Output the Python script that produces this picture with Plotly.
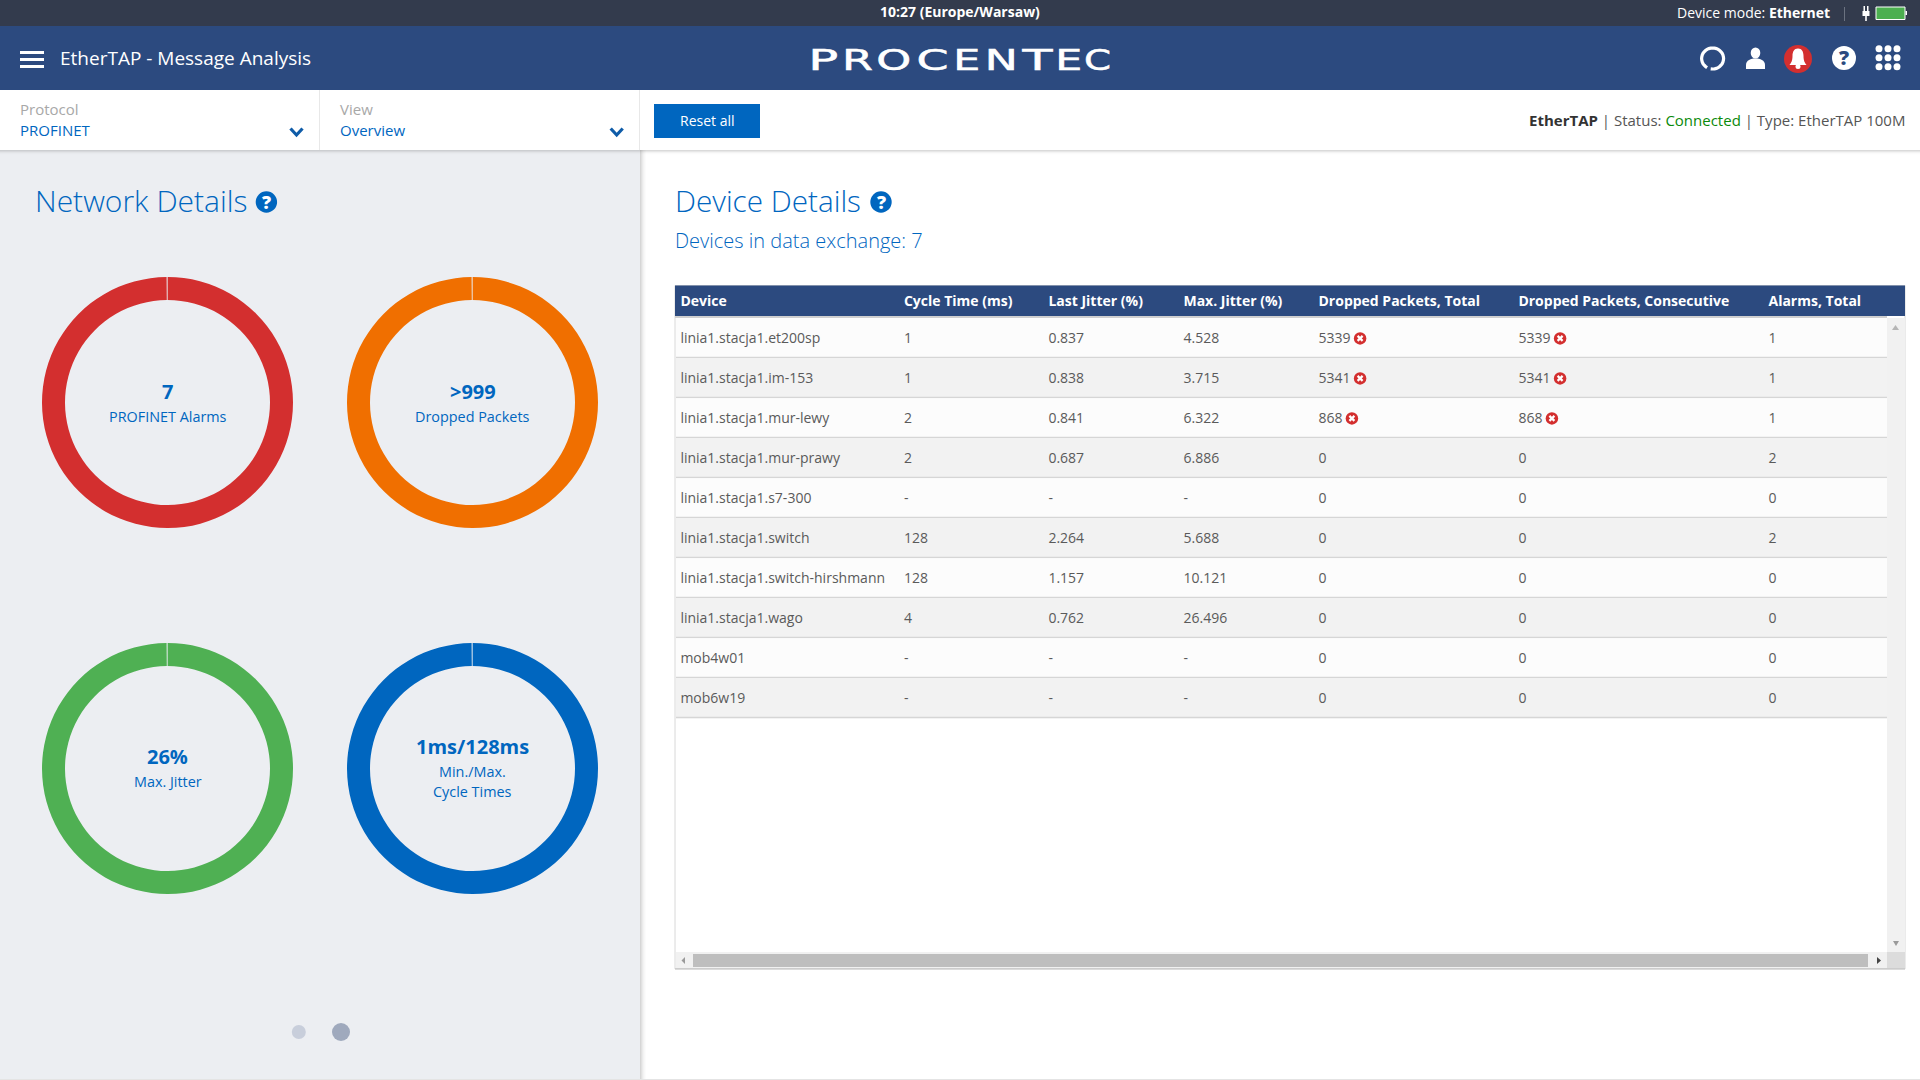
import json
import math
import plotly.graph_objects as go

# ---------- data ----------
devices = ["linia1.stacja1.et200sp", "linia1.stacja1.im-153", "linia1.stacja1.mur-lewy",
           "linia1.stacja1.mur-prawy", "linia1.stacja1.s7-300", "linia1.stacja1.switch",
           "linia1.stacja1.switch-hirshmann", "linia1.stacja1.wago", "mob4w01", "mob6w19"]
cycle_time = ["1", "1", "2", "2", "-", "128", "128", "4", "-", "-"]
last_jitter = ["0.837", "0.838", "0.841", "0.687", "-", "2.264", "1.157", "0.762", "-", "-"]
max_jitter = ["4.528", "3.715", "6.322", "6.886", "-", "5.688", "10.121", "26.496", "-", "-"]
dropped_total = ["5339", "5341", "868", "0", "0", "0", "0", "0", "0", "0"]
dropped_consecutive = ["5339", "5341", "868", "0", "0", "0", "0", "0", "0", "0"]
alarms_total = ["1", "1", "1", "2", "0", "2", "0", "0", "0", "0"]
table_headers = ["Device", "Cycle Time (ms)", "Last Jitter (%)", "Max. Jitter (%)",
                 "Dropped Packets, Total", "Dropped Packets, Consecutive", "Alarms, Total"]

donut_values = ["7", ">999", "26%", "1ms/128ms"]
donut_labels = [["PROFINET Alarms"], ["Dropped Packets"], ["Max. Jitter"], ["Min./Max.", "Cycle Times"]]
ring_slices = [100, 0.1]
logo_text = "PROCENTEC"

# ---------- style ----------
FONT = "Open Sans"
BLUE = "#0066BF"
NAVY = "#2C4A7F"
DARK = "#333B4D"
PANEL = "#ECEEF2"
TEXT = "#5A5A5A"
RED = "#D32F2F"
donut_colors = ["#D32F2F", "#F06F00", "#4FB053", "#0066BF"]
donut_centers = [(167.5, 402.5), (472.5, 402.5), (167.5, 768.5), (472.5, 768.5)]
R = 125.5
col_text_x = [680.4, 904, 1048.6, 1183.7, 1318.8, 1518.8, 1769]
logo_x = [823.7, 857.8, 894.2, 932, 966.7, 1001.7, 1036.7, 1068.3, 1097.8]
logo_w = [30, 31, 35, 32, 27, 33, 30, 27, 27]
TABLE_PAD = 8
TABLE_TOP = 285.5
ROW_H = 40
W, H = 1920, 1080

shapes, annos = [], []


def rect(x0, y0, x1, y1, color, layer="below", line=None, lw=1):
    shapes.append(dict(type="rect", xref="x", yref="y", x0=x0, y0=y0, x1=x1, y1=y1,
                       fillcolor=color, layer=layer,
                       line=dict(color=line, width=lw) if line else dict(width=0)))


def circle(cx, cy, r, color, layer="above", line=None, lw=1, ry=None):
    ry = ry or r
    shapes.append(dict(type="circle", xref="x", yref="y", x0=cx - r, y0=cy - ry, x1=cx + r, y1=cy + ry,
                       fillcolor=color, layer=layer,
                       line=dict(color=line, width=lw) if line else dict(width=0)))


def path(d, fill=None, line=None, lw=0, layer="above"):
    shapes.append(dict(type="path", xref="x", yref="y", path=d, layer=layer,
                       fillcolor=fill if fill else "rgba(0,0,0,0)",
                       line=dict(color=line, width=lw) if line else dict(width=0)))


def txt(x, y, s, size, color, anchor="left", weight=400, family=FONT):
    dx = {"left": -2.5, "right": 1.5, "center": 0}[anchor]
    font = dict(family=family, size=size, color=color, weight=weight)
    annos.append(dict(xref="x", yref="y", x=x + dx, y=y - 0.8, text=s, showarrow=False, xanchor=anchor,
                      yanchor="middle", align=anchor, font=font))


def help_icon(cx, cy, r, bg, fg, size):
    circle(cx, cy, r, bg)
    txt(cx, cy + 0.3, "?", size, fg, "center", 800)


def chevron(cx, cy):
    path(f"M {cx-6} {cy-3.5} L {cx} {cy+3} L {cx+6} {cy-3.5}", line="#0F5CA8", lw=3.2)


def tri(points, color):
    path("M " + " L ".join(f"{x} {y}" for x, y in points) + " Z", fill=color)


# ---------- app chrome ----------
rect(0, 150, 640, 1079, PANEL)
for i, (a) in enumerate([0.30, 0.22, 0.15, 0.09, 0.05, 0.02]):
    rect(640 + i, 150, 641 + i, 1079, f"rgba(120,120,120,{a})")
    rect(0, 150 + i * 0.7, W, 150.7 + i * 0.7, f"rgba(120,120,120,{a})")
rect(0, 1079, W, 1080, "#E4E4E4")
rect(0, 0, W, 26, DARK)
rect(0, 26, W, 90, NAVY)
rect(319, 90, 320, 150, "#E8E8E8")
rect(639, 90, 640, 150, "#E8E8E8")
rect(654, 104, 760, 138, BLUE)

for y in (51, 58, 65):
    rect(20, y, 44, y + 3, "#FFFFFF")

txt(60.5, 58.5, "EtherTAP - Message Analysis", 19, "#FFFFFF")
txt(960, 12.5, "10:27 (Europe/Warsaw)", 14, "#FFFFFF", "center", 700)
txt(1830, 13, "Device mode: <b>Ethernet</b>", 14, "#FFFFFF", "right")
rect(1844, 7, 1845, 21, "#6B7280")

# logo: one real-text letter each; each is stretched to its width once the page is drawn
logo_index = []
for ch, x in zip(logo_text, logo_x):
    logo_index.append(len(annos))
    txt(x, 60.5, ch, 27.5, "#FFFFFF", "center", 400, "DejaVu Sans")

# plug + battery
rect(1862.5, 11, 1869.5, 16, "#FFFFFF")
rect(1863.5, 6, 1865, 11, "#FFFFFF")
rect(1867, 6, 1868.5, 11, "#FFFFFF")
rect(1865.2, 16, 1866.8, 21, "#FFFFFF")
rect(1876, 7, 1905, 19.5, "#4CAF50", layer="above", line="#FFFFFF", lw=1)
rect(1905.5, 11, 1907, 15, "#FFFFFF")

# refresh
arc = [(1712.6 + 11 * math.cos(math.radians(a)), 58.5 + 10.5 * math.sin(math.radians(a)))
       for a in range(120, 120 + 350, 10)]
path("M " + " L ".join(f"{x:.1f} {y:.1f}" for x, y in arc), line="#FFFFFF", lw=3.2)
# user
circle(1755.5, 53, 4.8, "#FFFFFF", ry=5.5)
path("M 1746 69 L 1746 65 C 1746 60 1751 58.5 1755.5 58.5 C 1760 58.5 1765 60 1765 65 L 1765 69 Z", fill="#FFFFFF")
# bell
circle(1798, 59, 14, RED)
path("M 1798 48.5 C 1794 48.5 1792.5 52 1792.5 56 C 1792.5 61 1791 63 1789.5 65 L 1806.5 65 "
     "C 1805 63 1803.5 61 1803.5 56 C 1803.5 52 1802 48.5 1798 48.5 Z", fill="#FFFFFF")
circle(1798, 66.5, 2.5, "#FFFFFF")
# help
help_icon(1844, 58, 12, "#FFFFFF", NAVY, 20)

# filter bar
txt(20, 109.5, "Protocol", 15, "#A8A8A8")
txt(20, 131, "PROFINET", 15, BLUE)
chevron(296.5, 132)
txt(340, 109.5, "View", 15, "#A8A8A8")
txt(340, 131, "Overview", 15, BLUE)
chevron(616.7, 132)
txt(707, 121, "Reset all", 14, "#FFFFFF", "center")
txt(1905, 120.5, '<b style="color:#333">EtherTAP</b> | Status: <span style="color:#0A8A0A">Connected</span>'
    ' | Type: EtherTAP 100M', 15, "#555555", "right")

# headings
txt(35, 201, "Network Details", 30, BLUE, weight=300)
help_icon(266.4, 202, 10.7, BLUE, "#FFFFFF", 18)
txt(675.2, 201, "Device Details", 29.7, BLUE, weight=300)
help_icon(881, 202, 10.7, BLUE, "#FFFFFF", 18)
txt(675.5, 241, "Devices in data exchange: 7", 20, BLUE, weight=300)

# pagination
circle(298.8, 1032, 7, "#C8CEDB")
circle(341, 1032, 9, "#9FA9BD")

# ---------- table frame ----------
n_rows = len(devices)
rows_top = 318.2
rect(675, TABLE_TOP, 1905, 969, "#FFFFFF", line="#D8D8D8", lw=1)
rect(675, TABLE_TOP, 1905, 316, NAVY)
rect(675, 316, 1887, 318, "#CFCFCF")
for i in range(n_rows):
    y0 = rows_top + i * ROW_H
    rect(676, y0, 1887, y0 + ROW_H, "#FCFCFC" if i % 2 == 0 else "#F2F2F2")
    rect(676, y0 + ROW_H - 1.5, 1887, y0 + ROW_H, "#D6D6D6")
rect(1887, 318, 1905, 952, "#F1F1F1")
rect(676, 952, 1887, 968, "#F1F1F1")
rect(1887, 952, 1905, 968, "#DCDCDC")
rect(693, 954, 1868, 967, "#BEBEBE")
rect(675, 968, 1905, 969.5, "#CCCCCC")
tri([(1892, 330), (1899, 330), (1895.5, 325)], "#B5B5B5")
tri([(1893, 941), (1899, 941), (1896, 946)], "#9A9A9A")
tri([(685, 957), (685, 964), (681.5, 960.5)], "#9A9A9A")
tri([(1877, 957), (1877, 964), (1881, 960.5)], "#444444")

# ---------- figure ----------
fig = go.Figure()

# status icons beside dropped-packet counts
ix, iy = [], []
for col, values in ((4, dropped_total), (5, dropped_consecutive)):
    for i, v in enumerate(values):
        if int(v) > 0:
            ix.append(col_text_x[col] + 8.5 + 8.2 * len(v))
            iy.append(rows_top + (i + 0.5) * ROW_H + 0.2)
fig.add_trace(go.Scatter(x=ix, y=iy, mode="markers", hoverinfo="skip", showlegend=False,
                         marker=dict(symbol="circle", size=12.5, color=RED, line=dict(width=0))))
fig.add_trace(go.Scatter(x=ix, y=iy, mode="markers", hoverinfo="skip", showlegend=False,
                         marker=dict(symbol="x-thin", size=5, line=dict(width=2.2, color="#FFFFFF"))))

# donuts
for (cx, cy), color in zip(donut_centers, donut_colors):
    fig.add_trace(go.Pie(values=ring_slices, hole=102.5 / R, sort=False, direction="clockwise",
                         rotation=0, textinfo="none", hoverinfo="skip", showlegend=False,
                         marker=dict(colors=[color, "rgba(236,238,242,0.6)"], line=dict(width=0)),
                         domain=dict(x=[(cx - R) / W, (cx + R) / W],
                                     y=[1 - (cy + R) / H, 1 - (cy - R) / H])))
for n, ((cx, cy), v, labels) in enumerate(zip(donut_centers, donut_values, donut_labels)):
    off = 0 if len(labels) == 1 else -10
    row_off = -0.4 if n < 2 else -1.4
    txt(cx, cy - 9.5 + off + row_off, v, 20, BLUE, "center", 700)
    for j, lab in enumerate(labels):
        txt(cx, cy + 15 + off + row_off + j * 20, lab, 14.4, BLUE, "center")

# table
lefts = [x - TABLE_PAD for x in col_text_x] + [1905 + TABLE_PAD]
widths = [lefts[i + 1] - lefts[i] for i in range(7)]
T_TOP = 282.5
T_HEAD = 41.8
fig.add_trace(go.Table(
    domain=dict(x=[lefts[0] / W, lefts[-1] / W],
                y=[1 - (T_TOP + T_HEAD + n_rows * ROW_H + 6) / H, 1 - T_TOP / H]),
    columnwidth=widths,
    header=dict(values=[f"<b>{h}</b>" for h in table_headers], height=T_HEAD, align="left",
                fill=dict(color="rgba(0,0,0,0)"), line=dict(width=0),
                font=dict(family=FONT, size=14, color="#FFFFFF")),
    cells=dict(values=[devices, cycle_time, last_jitter, max_jitter, dropped_total,
                       dropped_consecutive, alarms_total],
               height=ROW_H, align="left", fill=dict(color="rgba(0,0,0,0)"), line=dict(width=0),
               font=dict(family=FONT, size=14, color=TEXT))))

fig.update_layout(
    width=W, height=H, margin=dict(l=0, r=0, t=0, b=0, pad=0), paper_bgcolor="#FFFFFF",
    plot_bgcolor="rgba(0,0,0,0)", showlegend=False, shapes=shapes, annotations=annos,
    xaxis=dict(range=[0, W], visible=False, fixedrange=True, domain=[0, 1]),
    yaxis=dict(range=[H, 0], visible=False, fixedrange=True, domain=[0, 1]),
)

# grid launcher dots
gx = [1879, 1888, 1897] * 3
gy = [48.7] * 3 + [57.7] * 3 + [66.7] * 3
fig.add_trace(go.Scatter(x=gx, y=gy, mode="markers", hoverinfo="skip", showlegend=False,
                         marker=dict(size=7, color="#FFFFFF", line=dict(width=0))))

post = """
document.body.style.margin='0';document.body.style.overflow='hidden';
var idx=%s, wid=%s;
idx.forEach(function(n,k){
  var t=document.querySelector('.annotation[data-index="'+n+'"] text');
  if(t){t.setAttribute('textLength',wid[k]);t.setAttribute('lengthAdjust','spacingAndGlyphs');
        t.style.stroke='#fff';t.style.strokeWidth='0.5px';}
});
""" % (json.dumps(logo_index), json.dumps(logo_w))
fig.write_html("out.html", config=dict(displayModeBar=False), post_script=post)
